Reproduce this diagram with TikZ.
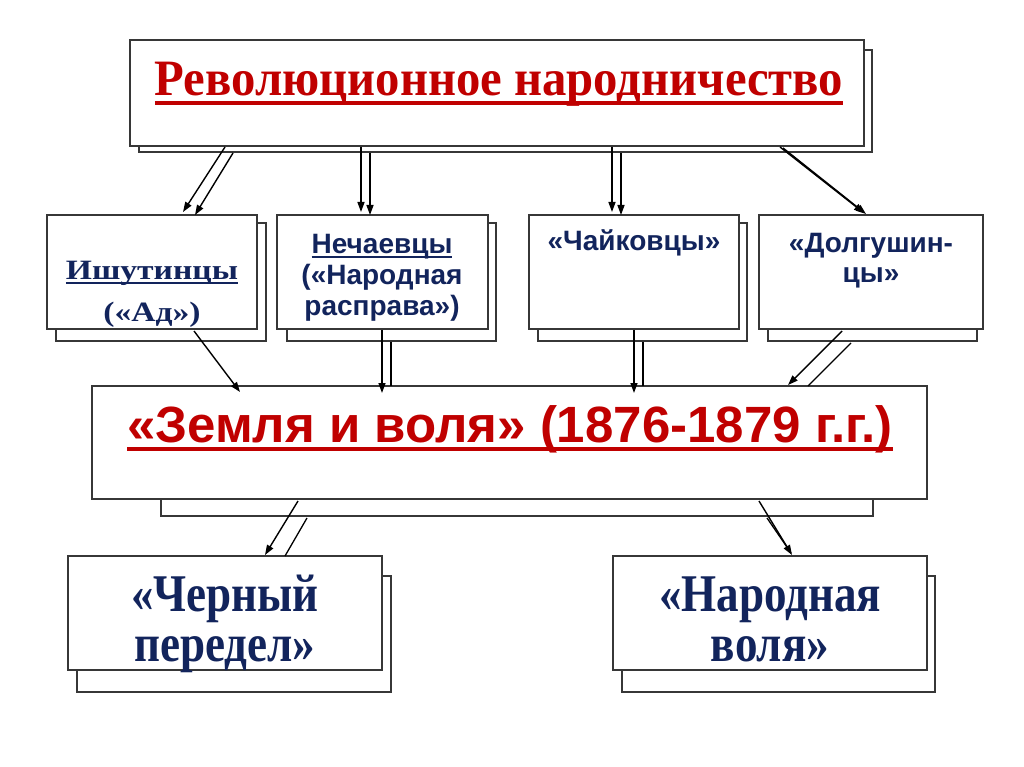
\documentclass[tikz,border=0pt]{standalone}
\usepackage{fontspec}
\setmainfont{Liberation Serif}
\newfontfamily\arialf{Liberation Sans}
\newfontfamily\condserif[FakeStretch=0.85]{Liberation Serif}
\newfontfamily\topserif[FakeStretch=0.955]{Liberation Serif}
\newfontfamily\wideserif[FakeStretch=1.2]{Liberation Serif}
\usetikzlibrary{calc,arrows.meta}
\definecolor{redt}{RGB}{192,0,0}
\definecolor{navyt}{RGB}{18,36,92}
\definecolor{edgec}{RGB}{55,55,55}
\newcommand\thickul[3]{\setbox0=\hbox{#3}\rlap{\rule[-#1]{\wd0}{#2}}\box0}
\tikzset{
  boxmain/.style={draw=edgec, fill=white, line width=1.1pt, inner sep=0pt, outer sep=0pt, anchor=north west},
  boxshadow/.style={draw=edgec, fill=white, line width=1.1pt, inner sep=0pt, outer sep=0pt, anchor=north west},
  arr/.style={line width=1.4pt, -{Triangle[length=10pt,width=7pt]}},
  plainline/.style={line width=1.3pt},
  txt/.style={inner sep=0pt, outer sep=0pt, anchor=base, align=center},
}
\begin{document}
\begin{tikzpicture}[x=1pt,y=-1pt]
\useasboundingbox (0,0) rectangle (1024,767);
\fill[white] (0,0) rectangle (1024,767);

% shadows
\node[boxshadow, minimum width=733pt, minimum height=102pt] (topsh) at (139,50) {};
\node[boxshadow, minimum width=210pt, minimum height=118pt] (ishsh) at (56,223) {};
\node[boxshadow, minimum width=209pt, minimum height=118pt] (nechsh) at (287,223) {};
\node[boxshadow, minimum width=209pt, minimum height=118pt] (chaish) at (538,223) {};
\node[boxshadow, minimum width=209pt, minimum height=118pt] (dolgsh) at (768,223) {};
\node[boxshadow, minimum width=712pt, minimum height=116pt] (zemsh) at (161,400) {};
\node[boxshadow, minimum width=314pt, minimum height=116pt] (chersh) at (77,576) {};
\node[boxshadow, minimum width=313pt, minimum height=116pt] (narsh) at (622,576) {};

% main boxes
\node[boxmain, minimum width=734pt, minimum height=106pt] (top) at (130,40) {};
\node[boxmain, minimum width=210pt, minimum height=114pt] (ish) at (47,215) {};
\node[boxmain, minimum width=211pt, minimum height=114pt] (nech) at (277,215) {};
\node[boxmain, minimum width=210pt, minimum height=114pt] (chai) at (529,215) {};
\node[boxmain, minimum width=224pt, minimum height=114pt] (dolg) at (759,215) {};
\node[boxmain, minimum width=835pt, minimum height=113pt] (zem) at (92,386) {};
\node[boxmain, minimum width=314pt, minimum height=114pt] (cher) at (68,556) {};
\node[boxmain, minimum width=314pt, minimum height=114pt] (nar) at (613,556) {};

% texts (anchor base = baseline of last line)
\node[txt, text=redt, font=\topserif\bfseries\fontsize{51}{60}\selectfont] (toptxt) at (499,96)
  {\thickul{9pt}{4pt}{Революционное народничество}};
\node[txt, text=navyt, font=\wideserif\bfseries\fontsize{28}{42}\selectfont] (ishtxt) at (152,321)
  {\thickul{5pt}{2pt}{Ишутинцы}\\(«Ад»)};
\node[txt, text=navyt, font=\arialf\bfseries\fontsize{28}{31}\selectfont] (nechtxt) at (382,315)
  {\thickul{5pt}{2pt}{Нечаевцы}\\(«Народная\\расправа»)};
\node[txt, text=navyt, font=\arialf\bfseries\fontsize{28}{31}\selectfont] (chaitxt) at (634,251)
  {«Чайковцы»};
\node[txt, text=navyt, font=\arialf\bfseries\fontsize{28}{30}\selectfont] (dolgtxt) at (871,282)
  {«Долгушин-\\цы»};
\node[txt, text=redt, font=\arialf\bfseries\fontsize{51}{60}\selectfont] (zemtxt) at (510,442)
  {\thickul{9pt}{4pt}{«Земля и воля» (1876-1879 г.г.)}};
\node[txt, text=navyt, font=\condserif\bfseries\fontsize{53}{50}\selectfont] (chertxt) at (225,661)
  {«Черный\\передел»};
\node[txt, text=navyt, font=\condserif\bfseries\fontsize{53}{50}\selectfont] (nartxt) at (770,661)
  {«Народная\\воля»};

% arrows: top -> row 2
\draw[arr] ($(top.south west)+(95,1)$) -- ($(ish.north west)+(136,-3)$);
\draw[arr] ($(topsh.south west)+(94,1)$) -- ($(ish.north west)+(148,0)$);
\draw[arr] ($(top.south west)+(231,1)$) -- ($(nech.north west)+(84,-3)$);
\draw[arr] ($(topsh.south west)+(231,1)$) -- ($(nech.north west)+(93,0)$);
\draw[arr] ($(top.south west)+(482,1)$) -- ($(chai.north west)+(83,-3)$);
\draw[arr] ($(topsh.south west)+(482,1)$) -- ($(chai.north west)+(92,0)$);
\draw[arr] ($(top.south west)+(650,1)$) -- ($(dolg.north west)+(105,-2)$);
\draw[arr] ($(top.south west)+(653,2)$) -- ($(dolg.north west)+(107,-1)$);

% arrows: row 2 -> Zemlya
\draw[arr] ($(ish.south west)+(147,2)$) -- ($(zem.north west)+(148,6)$);
\draw[arr] ($(nech.south west)+(105,1)$) -- ($(zem.north west)+(290,7)$);
\draw[plainline] ($(nechsh.south west)+(104,1)$) -- ($(zem.north west)+(299,0)$);
\draw[arr] ($(chai.south west)+(105,1)$) -- ($(zem.north west)+(542,7)$);
\draw[plainline] ($(chaish.south west)+(105,1)$) -- ($(zem.north west)+(551,0)$);
\draw[arr] ($(dolg.south west)+(83,2)$) -- ($(zem.north west)+(696,-1)$);
\draw[plainline] ($(dolgsh.south west)+(83,2)$) -- ($(zem.north west)+(716,0)$);

% arrows: Zemlya -> bottom
\draw[arr] ($(zem.south west)+(206,2)$) -- ($(cher.north west)+(197,-1)$);
\draw[plainline] ($(zemsh.south west)+(146,2)$) -- ($(cher.north west)+(217,0)$);
\draw[arr] ($(zem.south west)+(667,2)$) -- ($(nar.north west)+(179,-1)$);
\draw[plainline] ($(zemsh.south west)+(606,2)$) -- ($(nar.north west)+(178,-3)$);
\end{tikzpicture}
\end{document}
